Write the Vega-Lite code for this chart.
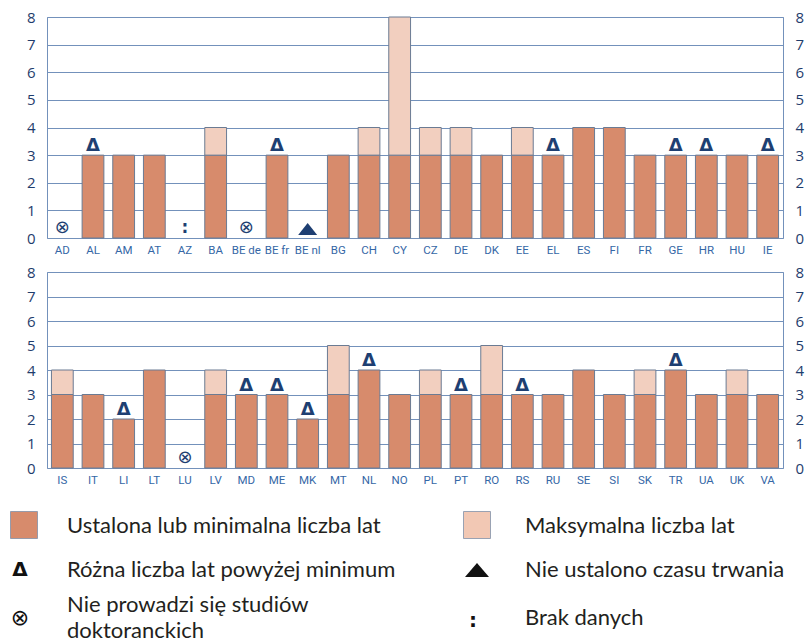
{
  "$schema": "https://vega.github.io/schema/vega-lite/v6.json",
  "background": "white",
  "padding": {"left": 8, "top": 9, "right": 0, "bottom": 0},
  "bounds": "flush",
  "spacing": 34,
  "config": {
    "view": {"stroke": "#7391bb", "strokeWidth": 1},
    "font": "Lato"
  },
  "datasets": {
    "bars": [
      {"p": 1, "c": "AD", "min": null, "max": null, "s": "x"},
      {"p": 1, "c": "AL", "min": 3, "max": null, "s": "d"},
      {"p": 1, "c": "AM", "min": 3, "max": null, "s": ""},
      {"p": 1, "c": "AT", "min": 3, "max": null, "s": ""},
      {"p": 1, "c": "AZ", "min": null, "max": null, "s": "n"},
      {"p": 1, "c": "BA", "min": 3, "max": 4, "s": ""},
      {"p": 1, "c": "BE de", "min": null, "max": null, "s": "x"},
      {"p": 1, "c": "BE fr", "min": 3, "max": null, "s": "d"},
      {"p": 1, "c": "BE nl", "min": null, "max": null, "s": "t"},
      {"p": 1, "c": "BG", "min": 3, "max": null, "s": ""},
      {"p": 1, "c": "CH", "min": 3, "max": 4, "s": ""},
      {"p": 1, "c": "CY", "min": 3, "max": 8, "s": ""},
      {"p": 1, "c": "CZ", "min": 3, "max": 4, "s": ""},
      {"p": 1, "c": "DE", "min": 3, "max": 4, "s": ""},
      {"p": 1, "c": "DK", "min": 3, "max": null, "s": ""},
      {"p": 1, "c": "EE", "min": 3, "max": 4, "s": ""},
      {"p": 1, "c": "EL", "min": 3, "max": null, "s": "d"},
      {"p": 1, "c": "ES", "min": 4, "max": null, "s": ""},
      {"p": 1, "c": "FI", "min": 4, "max": null, "s": ""},
      {"p": 1, "c": "FR", "min": 3, "max": null, "s": ""},
      {"p": 1, "c": "GE", "min": 3, "max": null, "s": "d"},
      {"p": 1, "c": "HR", "min": 3, "max": null, "s": "d"},
      {"p": 1, "c": "HU", "min": 3, "max": null, "s": ""},
      {"p": 1, "c": "IE", "min": 3, "max": null, "s": "d"},
      {"p": 2, "c": "IS", "min": 3, "max": 4, "s": ""},
      {"p": 2, "c": "IT", "min": 3, "max": null, "s": ""},
      {"p": 2, "c": "LI", "min": 2, "max": null, "s": "d"},
      {"p": 2, "c": "LT", "min": 4, "max": null, "s": ""},
      {"p": 2, "c": "LU", "min": null, "max": null, "s": "x"},
      {"p": 2, "c": "LV", "min": 3, "max": 4, "s": ""},
      {"p": 2, "c": "MD", "min": 3, "max": null, "s": "d"},
      {"p": 2, "c": "ME", "min": 3, "max": null, "s": "d"},
      {"p": 2, "c": "MK", "min": 2, "max": null, "s": "d"},
      {"p": 2, "c": "MT", "min": 3, "max": 5, "s": ""},
      {"p": 2, "c": "NL", "min": 4, "max": null, "s": "d"},
      {"p": 2, "c": "NO", "min": 3, "max": null, "s": ""},
      {"p": 2, "c": "PL", "min": 3, "max": 4, "s": ""},
      {"p": 2, "c": "PT", "min": 3, "max": null, "s": "d"},
      {"p": 2, "c": "RO", "min": 3, "max": 5, "s": ""},
      {"p": 2, "c": "RS", "min": 3, "max": null, "s": "d"},
      {"p": 2, "c": "RU", "min": 3, "max": null, "s": ""},
      {"p": 2, "c": "SE", "min": 4, "max": null, "s": ""},
      {"p": 2, "c": "SI", "min": 3, "max": null, "s": ""},
      {"p": 2, "c": "SK", "min": 3, "max": 4, "s": ""},
      {"p": 2, "c": "TR", "min": 4, "max": null, "s": "d"},
      {"p": 2, "c": "UA", "min": 3, "max": null, "s": ""},
      {"p": 2, "c": "UK", "min": 3, "max": 4, "s": ""},
      {"p": 2, "c": "VA", "min": 3, "max": null, "s": ""}
    ],
    "legend": [
      {"kind": "minbox", "x": 22, "y": 525, "label": ""},
      {"kind": "maxbox", "x": 475, "y": 525, "label": ""},
      {"kind": "delta", "x": 18, "y": 570, "label": ""},
      {"kind": "tri", "x": 475, "y": 570, "label": ""},
      {"kind": "otimes", "x": 18, "y": 618, "label": ""},
      {"kind": "colon", "x": 471, "y": 621, "label": ""},
      {"kind": "label", "x": 65, "y": 533, "label": "Ustalona lub minimalna liczba lat"},
      {"kind": "label", "x": 523, "y": 533, "label": "Maksymalna liczba lat"},
      {"kind": "label", "x": 65, "y": 577, "label": "Różna liczba lat powyżej minimum"},
      {"kind": "label", "x": 523, "y": 577, "label": "Nie ustalono czasu trwania"},
      {"kind": "label", "x": 65, "y": 612, "label": "Nie prowadzi się studiów\ndoktoranckich"},
      {"kind": "label", "x": 523, "y": 625, "label": "Brak danych"}
    ]
  },
  "vconcat": [
    {
      "width": 736, "height": 221,
      "data": {"name": "bars"},
      "transform": [{"filter": "datum.p == 1"}],
      "resolve": {"axis": {"y": "independent"}},
      "encoding": {
        "x": {"field": "c", "type": "nominal", "sort": null,
          "scale": {"domain": ["AD","AL","AM","AT","AZ","BA","BE de","BE fr","BE nl","BG","CH","CY","CZ","DE","DK","EE","EL","ES","FI","FR","GE","HR","HU","IE"], "paddingInner": 0.29, "paddingOuter": 0.145},
          "axis": {"title": null, "labelAngle": 0, "ticks": false, "domain": false, "labelPadding": 6, "labelFontSize": 11.5, "labelColor": "#3567a6", "labelFont": "Roboto"}}
      },
      "layer": [
        {"mark": {"type": "bar", "fill": "#d78b6c", "stroke": "#6b7b93", "strokeWidth": 1},
         "encoding": {"y": {"field": "min", "type": "quantitative", "scale": {"domain": [0, 8], "nice": false},
           "axis": {"orient": "left", "title": null, "values": [0,1,2,3,4,5,6,7,8], "grid": true, "gridColor": "#7391bb", "gridWidth": 1, "gridOpacity": 1, "ticks": false, "domain": false, "labelPadding": 12, "labelFontSize": 15, "labelColor": "#1f3d6d", "labelFont": "Open Sans"}}}},
        {"transform": [{"filter": "datum.max != null"}],
         "mark": {"type": "bar", "fill": "#f2cfbf", "stroke": "#6b7b93", "strokeWidth": 1},
         "encoding": {"y": {"field": "min", "type": "quantitative",
           "axis": {"orient": "right", "title": null, "values": [0,1,2,3,4,5,6,7,8], "grid": false, "ticks": false, "domain": false, "labelPadding": 12, "labelFontSize": 15, "labelColor": "#1f3d6d", "labelFont": "Open Sans"}},
           "y2": {"field": "max"}}},
        {"transform": [{"filter": "datum.s == 'd'"}],
         "mark": {"type": "text", "text": "Δ", "baseline": "alphabetic", "dy": -4, "fontSize": 18, "fontWeight": "bold", "font": "DejaVu Sans", "color": "#1e3f72"},
         "encoding": {"y": {"field": "min", "type": "quantitative", "axis": null}}},
        {"transform": [{"filter": "datum.s == 'x'"}],
         "mark": {"type": "text", "text": "⊗", "baseline": "middle", "dy": -10, "fontSize": 18, "font": "DejaVu Sans", "color": "#1e3f72"},
         "encoding": {"y": {"datum": 0, "type": "quantitative", "axis": null}}},
        {"transform": [{"filter": "datum.s == 'n'"}],
         "mark": {"type": "text", "text": ":", "baseline": "middle", "dy": -10, "fontSize": 17, "fontWeight": "bold", "font": "DejaVu Sans", "color": "#1e3f72"},
         "encoding": {"y": {"datum": 0, "type": "quantitative", "axis": null}}},
        {"transform": [{"filter": "datum.s == 't'"}],
         "mark": {"type": "point", "shape": "M-1,-0.32L1,-0.32L0,-1.58Z", "size": 361, "filled": true, "opacity": 1, "color": "#1e3f72"},
         "encoding": {"y": {"datum": 0, "type": "quantitative", "axis": null}}}
      ]
    },
    {
      "width": 736, "height": 196,
      "data": {"name": "bars"},
      "transform": [{"filter": "datum.p == 2"}],
      "resolve": {"axis": {"y": "independent"}},
      "encoding": {
        "x": {"field": "c", "type": "nominal", "sort": null,
          "scale": {"domain": ["IS","IT","LI","LT","LU","LV","MD","ME","MK","MT","NL","NO","PL","PT","RO","RS","RU","SE","SI","SK","TR","UA","UK","VA"], "paddingInner": 0.29, "paddingOuter": 0.145},
          "axis": {"title": null, "labelAngle": 0, "ticks": false, "domain": false, "labelPadding": 6, "labelFontSize": 11.5, "labelColor": "#3567a6", "labelFont": "Roboto"}}
      },
      "layer": [
        {"mark": {"type": "bar", "fill": "#d78b6c", "stroke": "#6b7b93", "strokeWidth": 1},
         "encoding": {"y": {"field": "min", "type": "quantitative", "scale": {"domain": [0, 8], "nice": false},
           "axis": {"orient": "left", "title": null, "values": [0,1,2,3,4,5,6,7,8], "grid": true, "gridColor": "#7391bb", "gridWidth": 1, "gridOpacity": 1, "ticks": false, "domain": false, "labelPadding": 12, "labelFontSize": 15, "labelColor": "#1f3d6d", "labelFont": "Open Sans"}}}},
        {"transform": [{"filter": "datum.max != null"}],
         "mark": {"type": "bar", "fill": "#f2cfbf", "stroke": "#6b7b93", "strokeWidth": 1},
         "encoding": {"y": {"field": "min", "type": "quantitative",
           "axis": {"orient": "right", "title": null, "values": [0,1,2,3,4,5,6,7,8], "grid": false, "ticks": false, "domain": false, "labelPadding": 12, "labelFontSize": 15, "labelColor": "#1f3d6d", "labelFont": "Open Sans"}},
           "y2": {"field": "max"}}},
        {"transform": [{"filter": "datum.s == 'd'"}],
         "mark": {"type": "text", "text": "Δ", "baseline": "alphabetic", "dy": -4, "fontSize": 18, "fontWeight": "bold", "font": "DejaVu Sans", "color": "#1e3f72"},
         "encoding": {"y": {"field": "min", "type": "quantitative", "axis": null}}},
        {"transform": [{"filter": "datum.s == 'x'"}],
         "mark": {"type": "text", "text": "⊗", "baseline": "middle", "dy": -10, "fontSize": 18, "font": "DejaVu Sans", "color": "#1e3f72"},
         "encoding": {"y": {"datum": 0, "type": "quantitative", "axis": null}}}
      ]
    },
    {
      "width": 736, "height": 140,
      "view": {"stroke": null},
      "data": {"name": "legend"},
      "encoding": {
        "x": {"field": "x", "type": "quantitative", "scale": {"domain": [45, 781], "nice": false, "zero": false}, "axis": null},
        "y": {"field": "y", "type": "quantitative", "scale": {"domain": [502, 642], "nice": false, "zero": false, "reverse": true}, "axis": null}
      },
      "layer": [
        {"transform": [{"filter": "datum.kind == 'minbox'"}],
         "mark": {"type": "point", "shape": "square", "size": 729, "filled": true, "opacity": 1, "fill": "#d78b6c", "stroke": "#8090a8", "strokeWidth": 0.8}},
        {"transform": [{"filter": "datum.kind == 'maxbox'"}],
         "mark": {"type": "point", "shape": "square", "size": 729, "filled": true, "opacity": 1, "fill": "#f2c8b4", "stroke": "#8090a8", "strokeWidth": 0.8}},
        {"transform": [{"filter": "datum.kind == 'delta'"}],
         "mark": {"type": "text", "text": "Δ", "baseline": "middle", "fontSize": 20, "fontWeight": "bold", "font": "DejaVu Sans", "color": "#111111"}},
        {"transform": [{"filter": "datum.kind == 'tri'"}],
         "mark": {"type": "point", "shape": "M-1,0.58L1,0.58L0,-0.58Z", "size": 576, "filled": true, "opacity": 1, "color": "#111111"}},
        {"transform": [{"filter": "datum.kind == 'otimes'"}],
         "mark": {"type": "text", "text": "⊗", "baseline": "middle", "fontSize": 22, "font": "DejaVu Sans", "color": "#111111"}},
        {"transform": [{"filter": "datum.kind == 'colon'"}],
         "mark": {"type": "text", "text": ":", "baseline": "middle", "fontSize": 20, "fontWeight": "bold", "font": "DejaVu Sans", "color": "#111111"}},
        {"transform": [{"filter": "datum.kind == 'label'"}],
         "mark": {"type": "text", "align": "left", "baseline": "alphabetic", "fontSize": 22, "font": "Lato", "color": "#231f20", "lineBreak": "\n", "lineHeight": 26},
         "encoding": {"text": {"field": "label"}}}
      ]
    }
  ]
}
